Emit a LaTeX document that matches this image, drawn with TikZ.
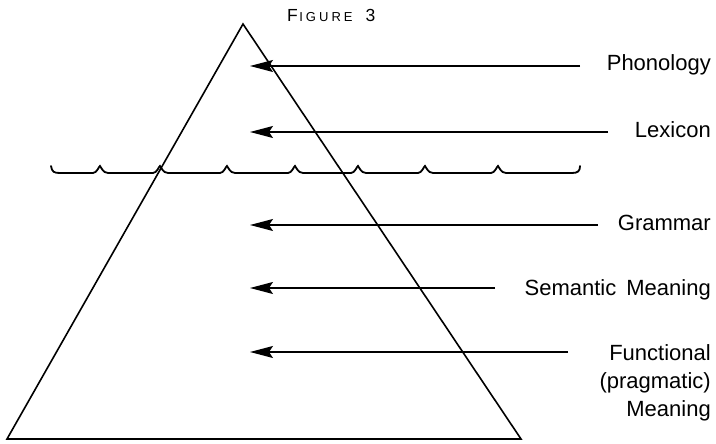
\documentclass[tikz,border=0pt]{standalone}
\usepackage{fontspec}
\setmainfont{Liberation Sans}
\usetikzlibrary{arrows.meta}
\begin{document}
\begin{tikzpicture}[x=1pt,y=-1pt,
  outline/.style={line width=1.6pt,line join=miter},
  wavy/.style={line width=1.8pt,line cap=round},
  pointer/.style={line width=1.4pt,-{Stealth[length=23pt,width=12pt,inset=4pt]}},
  lbl/.style={inner sep=0pt,font=\fontsize{22}{28}\selectfont,align=right}]
\useasboundingbox (0,0) rectangle (716,444);
% title
\node[inner sep=0pt,anchor=base west] (title) at (287,22)
  {{\fontsize{17.5}{17.5}\selectfont F}{\fontsize{13}{13}\selectfont\hspace{1.5pt}I\hspace{3pt}G\hspace{3pt}U\hspace{3pt}R\hspace{3pt}E}\hspace{13pt}{\fontsize{17.5}{17.5}\selectfont 3}};
% triangle
\coordinate (apex) at (243,24);
\coordinate (bl) at (7,439);
\coordinate (br) at (521,439);
\draw[outline] (apex) -- (bl) -- (br) -- cycle;
% wavy line
\draw[wavy] (51,166) .. controls (52,172) and (54,173) .. (60,173)
  \foreach \bx in {100,160,227,295,358,425,498} {
    -- (\bx-7,173) .. controls (\bx-3,173) and (\bx-1,166) .. (\bx,166)
    .. controls (\bx+1,167) and (\bx+3,173) .. (\bx+8,173)
  }
  -- (572,173) .. controls (578,173) and (580,171) .. (580,166);
% labels
\node[lbl,anchor=base east] (phon) at (711,71) {Phonology};
\node[lbl,anchor=base east] (lex) at (711,138) {Lexicon};
\node[lbl,anchor=base east] (gram) at (711,230) {Grammar};
\node[lbl,anchor=base east] (sem) at (711,295) {Semantic\hspace{4pt} Meaning};
\node[lbl,anchor=north east] (func) at (711,344) {Functional\\(pragmatic)\\Meaning};
% arrow coordinates
\coordinate (s1) at (580,66);  \coordinate (t1) at (250,66);
\coordinate (s2) at (608,132); \coordinate (t2) at (250,132);
\coordinate (s3) at (598,225); \coordinate (t3) at (250,225);
\coordinate (s4) at (495,288); \coordinate (t4) at (250,288);
\coordinate (s5) at (568,352); \coordinate (t5) at (250,352);
\draw[pointer] (s1) -- (t1);
\draw[pointer] (s2) -- (t2);
\draw[pointer] (s3) -- (t3);
\draw[pointer] (s4) -- (t4);
\draw[pointer] (s5) -- (t5);
\end{tikzpicture}
\end{document}
